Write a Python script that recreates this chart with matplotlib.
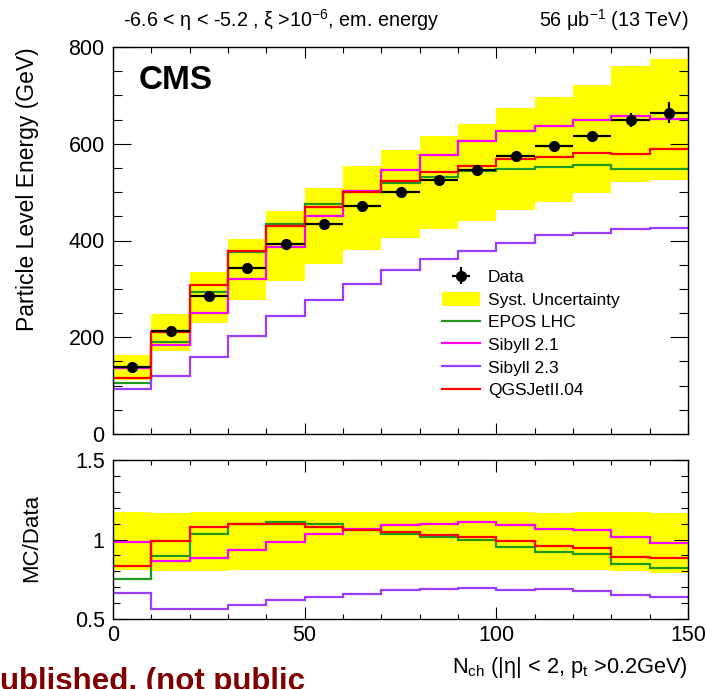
import numpy as np
import matplotlib
matplotlib.use("Agg")
import matplotlib.pyplot as plt
from matplotlib.ticker import MultipleLocator, FormatStrFormatter

plt.rcParams["font.family"] = ["Liberation Sans", "DejaVu Sans"]
plt.rcParams["mathtext.fontset"] = "custom"
plt.rcParams["mathtext.rm"] = "Liberation Sans"
plt.rcParams["mathtext.it"] = "Liberation Sans:italic"
plt.rcParams["mathtext.bf"] = "Liberation Sans:bold"

# binning in N_ch
edges = np.linspace(0, 150, 16)
centers = 0.5 * (edges[:-1] + edges[1:])
half_width = 0.5 * (edges[1:] - edges[:-1])

# measured particle level energy (GeV)
data = np.array([139, 212.7, 285, 343.6, 391.8, 434.4, 472.3, 500.5,
                 524.6, 545.3, 575, 596, 615, 648.6, 664.4])
stat_err = np.array([2, 2, 3, 3, 3, 4, 4, 5, 5, 6, 7, 8, 10, 14, 21])
syst_up = np.array([163, 248, 334, 403, 460, 509, 554, 587,
                    615, 640, 673, 697, 722, 761, 776])
syst_down = np.array([112, 171, 229, 277, 317, 351, 381, 405,
                      423, 441, 463, 480, 498, 521, 526])

# generator predictions
epos = np.array([104.7, 190.7, 294, 377, 434.4, 476, 500, 518,
                 532, 543, 548, 551, 557, 547, 547])
sibyll21 = np.array([137, 184, 251, 321, 386, 450, 503, 545,
                     576, 606, 627, 636, 650, 657, 651])
sibyll23 = np.array([92, 120, 160, 203, 243, 278, 311, 340,
                     361, 379, 394, 411, 415, 424, 426])
qgsjet = np.array([116, 211, 308, 378, 429, 469, 500, 523,
                   541, 553, 568, 572, 581, 579, 589])

models = [
    ("EPOS LHC", epos, "#1f9a1f"),
    ("Sibyll 2.1", sibyll21, "#ff00ff"),
    ("Sibyll 2.3", sibyll23, "#9c3cff"),
    ("QGSJetII.04", qgsjet, "#ff0000"),
]

W, H = 706, 689
fig = plt.figure(figsize=(W / 100, H / 100), dpi=100)
ax1 = fig.add_axes([113 / W, 1 - 434 / H, 575 / W, 387 / H])
ax2 = fig.add_axes([113 / W, 1 - 619 / H, 575 / W, 159 / H])

yellow = "#ffff00"

# upper panel
band = ax1.bar(centers, syst_up - syst_down, bottom=syst_down, width=10,
               color=yellow, linewidth=0, zorder=1)
lines = []
for name, vals, col in models:
    ax1.stairs(vals, edges, baseline=None, color=col, lw=1.6, zorder=2)
    lines.append(plt.Line2D([], [], color=col, lw=1.6))
eb = ax1.errorbar(centers, data, xerr=half_width, yerr=stat_err, fmt="o",
                  color="black", ms=7, elinewidth=1.6, capsize=0, zorder=3)

ax1.set_xlim(0, 150)
ax1.set_ylim(0, 800)
ax1.xaxis.set_major_locator(MultipleLocator(50))
ax1.xaxis.set_minor_locator(MultipleLocator(10))
ax1.yaxis.set_major_locator(MultipleLocator(200))
ax1.yaxis.set_minor_locator(MultipleLocator(50))
ax1.tick_params(axis="x", which="both", direction="in", top=True,
                labelbottom=False, width=0.8)
ax1.tick_params(axis="x", which="major", length=8)
ax1.tick_params(axis="x", which="minor", length=4.3)
ax1.tick_params(axis="y", which="both", direction="in", right=True,
                labelsize=15.5, pad=6, width=0.8)
ax1.tick_params(axis="y", which="major", length=13)
ax1.tick_params(axis="y", which="minor", length=6.5)

leg = ax1.legend([eb, band] + lines,
                 ["Data", "Syst. Uncertainty"] + [m[0] for m in models],
                 loc="upper left", bbox_to_anchor=(442 / W, 1 - 269 / H),
                 bbox_transform=fig.transFigure, frameon=False, fontsize=12.5,
                 handlelength=2.2, handletextpad=0.45, labelspacing=0.37,
                 borderpad=0, borderaxespad=0, handleheight=0.9)

ax1.text(0.045, 0.892, "CMS", transform=ax1.transAxes, fontsize=24,
         fontweight="bold", va="baseline", ha="left")

# ratio panel
ax2.bar(centers, (syst_up - syst_down) / data, bottom=syst_down / data,
        width=10, color=yellow, linewidth=0, zorder=1)
for name, vals, col in models:
    ax2.stairs(vals / data, edges, baseline=None, color=col, lw=1.6, zorder=2)

ax2.set_xlim(0, 150)
ax2.set_ylim(0.5, 1.5)
ax2.xaxis.set_major_locator(MultipleLocator(50))
ax2.xaxis.set_minor_locator(MultipleLocator(10))
ax2.yaxis.set_major_locator(MultipleLocator(0.5))
ax2.yaxis.set_minor_locator(MultipleLocator(0.1))
ax2.yaxis.set_major_formatter(FormatStrFormatter("%g"))
ax2.tick_params(axis="x", which="both", direction="in", top=True,
                labelsize=15.5, pad=4, width=0.8)
ax2.tick_params(axis="x", which="major", length=8.6)
ax2.tick_params(axis="x", which="minor", length=3.6)
ax2.tick_params(axis="y", which="both", direction="in", right=True,
                labelsize=15.5, pad=6, width=0.8)
ax2.tick_params(axis="y", which="major", length=10)
ax2.tick_params(axis="y", which="minor", length=5)

for ax in (ax1, ax2):
    for sp in ax.spines.values():
        sp.set_linewidth(1.0)

# titles and labels
fig.text(123 / W, 1 - 27 / H,
         "-6.6 < \u03b7 < -5.2 , \u03be >10$^{\\mathrm{-6}}$, em. energy",
         fontsize=14.2, ha="left", va="baseline")
fig.text(688 / W, 1 - 27 / H, "56 \u03bcb$^{\\mathrm{-1}}$ (13 TeV)",
         fontsize=14.2, ha="right", va="baseline")
fig.text(28 / W, 1 - 47 / H, "Particle Level Energy (GeV)", fontsize=16.5,
         rotation=90, ha="center", va="top")
fig.text(32 / W, 1 - 538 / H, "MC/Data", fontsize=16,
         rotation=90, ha="center", va="center")
fig.text(688 / W, 1 - 673 / H,
         "N$_{\\mathrm{ch}}$ (|\u03b7| < 2, p$_{\\mathrm{t}}$ >0.2GeV)",
         fontsize=15.7, ha="right", va="baseline")
fig.text(0, 1 - 690 / H, "ublished. (not public", fontsize=22.5,
         fontweight="bold", color="#800000", ha="left", va="baseline")

fig.savefig("out.png", dpi=100)
